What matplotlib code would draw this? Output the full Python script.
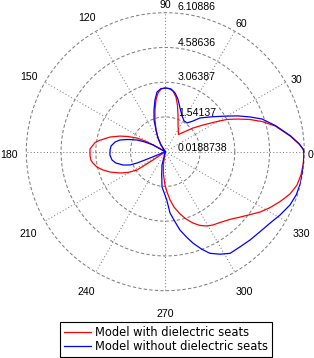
import numpy as np
import matplotlib
matplotlib.use("Agg")
import matplotlib.pyplot as plt
from matplotlib.lines import Line2D

plt.rcParams['lines.scale_dashes'] = False

# radiation pattern, angle in degrees, value as on the radial scale
red_theta = [0, 1.1, 3.3, 7.2, 13.2, 17.3, 20.8, 24.2, 27.6, 30.9, 35.3, 40.5, 45.7, 52.5,
             64.6, 70.9, 75.4, 78.9, 82.8, 86.6, 90.3, 93.9, 97.1, 100.2, 103.9, 108, 113.2,
             118, 122.7, 126, 140, 148, 151, 152.2, 154.2, 157.8, 161, 165.1, 170, 172.5,
             177.9, 180.2, 183.3, 186.4, 188.9, 192.6, 196.4, 200.2, 205.2, 209.1, 212.9,
             214, 216, 240, 259, 261.4, 265.6, 269.5, 272.4, 275.6, 278.9, 283.3, 287.1,
             291.2, 295.2, 299.3, 303.1, 307.7, 313.7, 318.8, 323.4, 327.5, 331.9, 336.5,
             341.3, 345.8, 350.3, 354.5, 358.2, 360]
red_r = [6.09, 6.05, 5.89, 5.53, 4.96, 4.46, 3.99, 3.51, 3.07, 2.55, 2.04, 1.62, 1.25, 0.97,
         1.32, 1.72, 2.13, 2.46, 2.70, 2.79, 2.81, 2.77, 2.61, 2.32, 1.90, 1.48, 1.05,
         0.70, 0.37, 0.02, 0.02, 0.02, 0.63, 1.02, 1.39, 1.78, 2.12, 2.52, 2.92, 3.12,
         3.32, 3.32, 3.32, 3.30, 3.23, 3.09, 2.86, 2.60, 2.21, 1.89, 1.50,
         0.67, 0.02, 0.02, 0.02, 0.61, 1.04, 1.48, 1.78, 2.14, 2.47, 2.82, 3.10,
         3.37, 3.59, 3.75, 3.85, 3.94, 4.12, 4.37, 4.64, 4.94, 5.22, 5.50,
         5.79, 5.97, 6.05, 6.08, 6.10, 6.09]

blue_theta = [0, 1.1, 3.3, 7.2, 13.2, 18.7, 22.3, 26.2, 30, 36.3, 44.2, 47.9, 52.9, 58.7,
              64.9, 71.4, 76.5, 80.6, 84.8, 89.4, 93.9, 97.9, 101.3, 105.2, 109.6, 113.2,
              118, 122.7, 126, 140, 146, 151, 154.5, 157.5, 161.9, 165.5, 169.1, 174, 178.2,
              183.4, 188.9, 192.9, 197.5, 200.6, 201.8, 202.2, 202.5, 205, 230, 253, 256,
              261.2, 264.7, 271.7, 274.4, 277.9, 280.6, 284, 287, 290.5, 293.7, 298.1, 302.5,
              308.2, 313.8, 319.8, 325.6, 331.1, 336.9, 341.8, 347, 352.4, 356.6, 360]
blue_r = [6.10, 6.06, 5.90, 5.55, 4.99, 4.49, 4.03, 3.57, 3.14, 2.61, 2.14, 1.83, 1.60, 1.60,
          1.75, 2.04, 2.39, 2.63, 2.78, 2.81, 2.79, 2.66, 2.33, 1.91, 1.49, 1.05,
          0.70, 0.37, 0.02, 0.02, 0.02, 0.63, 1.00, 1.36, 1.74, 2.07, 2.26, 2.41, 2.44,
          2.45, 2.38, 2.24, 1.96, 1.67, 1.35, 0.98, 0.59, 0.02, 0.02, 0.02, 0.62,
          1.05, 1.57, 2.13, 2.71, 3.12, 3.51, 3.88, 4.22, 4.58, 4.88, 5.11, 5.30,
          5.32, 5.38, 5.45, 5.57, 5.76, 5.96, 6.06, 6.10, 6.10, 6.10, 6.10]

r_min = 0.0188738
rings = [1.54137, 3.06387, 4.58636, 6.10886]
ring_labels = ['0.0188738', '1.54137', '3.06387', '4.58636', '6.10886']
spokes = [0, 30, 60, 90, 120, 150]
angle_labels = ['0', '30', '60', '90', '120', '150', '180', '210', '240', '270', '300', '330']
series_names = ['Model with dielectric seats', 'Model without dielectric seats']

W, H = 314, 358
# label centres in pixels (from top left)
angle_label_px = [(311, 155), (296, 80), (241, 24), (165.5, 4.5), (87.3, 18.3), (29, 76.7),
                  (9, 155), (28.3, 233.7), (85.8, 292), (165.7, 313.7), (244, 292), (301.7, 233.7)]
ring_label_y = [148, 113, 77.5, 42.5, 7.5]


def px(x, y):
    return x / W, 1 - y / H


fig = plt.figure(figsize=(W / 100, H / 100), dpi=100)
ax = fig.add_axes([26.3 / W, 67.3 / H, 278 / W, 278 / H], projection='polar')
ax.set_ylim(r_min, rings[-1])
ax.set_xticks([])
ax.set_yticks([])
ax.grid(False)
ax.spines['polar'].set_visible(False)

grey = '#808080'
th = np.linspace(0, 2 * np.pi, 721)
for r in rings:
    ax.plot(th, np.full_like(th, r), color=grey, lw=0.75, ls=(0, (2.4, 1.6)), clip_on=False)
for a in spokes:
    t = np.deg2rad(a)
    ax.plot([t, t], [r_min, rings[-1]], color=grey, lw=0.75, ls=(0, (0.75, 1.6)), clip_on=False)
    ax.plot([t + np.pi, t + np.pi], [r_min, rings[-1]], color=grey, lw=0.75, ls=(0, (0.75, 1.6)),
            clip_on=False)

ax.plot(np.deg2rad(red_theta), red_r, color='#ff0000', lw=0.9)
ax.plot(np.deg2rad(blue_theta), blue_r, color='#0000ff', lw=0.9)

font = dict(family='Liberation Sans', size=7.6)
for lab, (x, y) in zip(angle_labels, angle_label_px):
    fig.text(*px(x, y), lab, ha='center', va='center', **font)
for lab, y in zip(ring_labels, ring_label_y):
    fig.text(*px(178, y), lab, ha='left', va='center', **font)

handles = [Line2D([], [], color='#ff0000', lw=0.9), Line2D([], [], color='#0000ff', lw=0.9)]
leg = fig.legend(handles, series_names, loc='lower left', bbox_to_anchor=px(60, 357),
                 frameon=True, fancybox=False, framealpha=1, edgecolor='black',
                 borderpad=0.35, handlelength=2.35, handletextpad=0.3, labelspacing=0.1,
                 borderaxespad=0, prop=dict(family='DejaVu Sans', size=8.3))
leg.get_frame().set_linewidth(0.8)

fig.savefig('out.png', dpi=100)
